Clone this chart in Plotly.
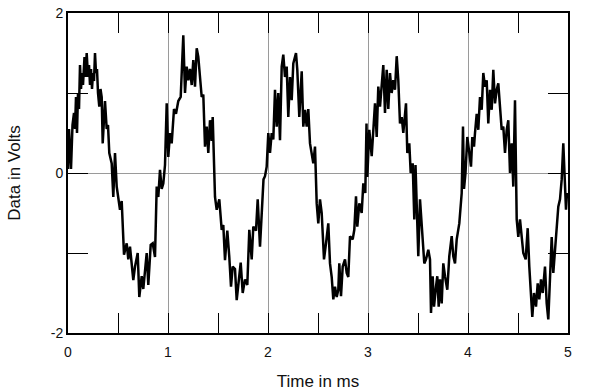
import plotly.graph_objects as go

time_ms = [
    0.000, 0.010, 0.020, 0.030, 0.045, 0.060, 0.070, 0.080, 0.090, 0.100,
    0.110, 0.120, 0.130, 0.140, 0.150, 0.165, 0.175, 0.187, 0.200, 0.210,
    0.220, 0.230, 0.240, 0.250, 0.260, 0.270, 0.280, 0.290, 0.300, 0.313,
    0.325, 0.337, 0.347, 0.370, 0.387, 0.400, 0.413, 0.437, 0.453, 0.470,
    0.487, 0.503, 0.520, 0.537, 0.553, 0.560, 0.587, 0.603, 0.620, 0.653,
    0.670, 0.697, 0.713, 0.737, 0.753, 0.770, 0.787, 0.803, 0.827, 0.847,
    0.870, 0.887, 0.903, 0.920, 0.937, 0.953, 0.970, 0.987, 1.003, 1.020,
    1.037, 1.060, 1.080, 1.103, 1.127, 1.153, 1.170, 1.187, 1.203, 1.220,
    1.237, 1.253, 1.270, 1.287, 1.303, 1.320, 1.337, 1.353, 1.370, 1.387,
    1.403, 1.420, 1.437, 1.447, 1.460, 1.470, 1.487, 1.513, 1.537, 1.553,
    1.570, 1.593, 1.613, 1.630, 1.647, 1.670, 1.687, 1.710, 1.727, 1.747,
    1.770, 1.793, 1.813, 1.837, 1.853, 1.880, 1.897, 1.920, 1.937, 1.955,
    1.970, 1.987, 2.003, 2.020, 2.037, 2.053, 2.070, 2.087, 2.103, 2.120,
    2.137, 2.153, 2.170, 2.187, 2.203, 2.220, 2.237, 2.253, 2.280, 2.293,
    2.313, 2.337, 2.353, 2.370, 2.387, 2.403, 2.420, 2.437, 2.453, 2.470,
    2.487, 2.503, 2.520, 2.537, 2.560, 2.580, 2.603, 2.620, 2.637, 2.653,
    2.670, 2.687, 2.703, 2.713, 2.730, 2.747, 2.770, 2.787, 2.803, 2.820,
    2.847, 2.863, 2.880, 2.893, 2.913, 2.937, 2.953, 2.973, 2.985, 2.993,
    3.013, 3.037, 3.053, 3.070, 3.087, 3.103, 3.120, 3.137, 3.153, 3.170,
    3.187, 3.203, 3.220, 3.237, 3.253, 3.270, 3.287, 3.303, 3.320, 3.337,
    3.353, 3.380, 3.393, 3.413, 3.427, 3.447, 3.463, 3.475, 3.487, 3.503,
    3.520, 3.537, 3.563, 3.580, 3.603, 3.620, 3.630, 3.647, 3.660, 3.680,
    3.693, 3.707, 3.720, 3.737, 3.753, 3.770, 3.793, 3.813, 3.837, 3.853,
    3.870, 3.887, 3.913, 3.937, 3.950, 3.960, 3.975, 3.993, 4.013, 4.030,
    4.043, 4.060, 4.070, 4.087, 4.103, 4.120, 4.137, 4.153, 4.170, 4.187,
    4.203, 4.220, 4.237, 4.253, 4.270, 4.287, 4.303, 4.320, 4.337, 4.353,
    4.370, 4.387, 4.403, 4.420, 4.437, 4.453, 4.470, 4.487, 4.503, 4.520,
    4.537, 4.553, 4.577, 4.597, 4.613, 4.630, 4.643, 4.660, 4.680, 4.697,
    4.713, 4.730, 4.747, 4.770, 4.787, 4.803, 4.820, 4.837, 4.853, 4.870,
    4.887, 4.903, 4.920, 4.937, 4.953, 4.970, 4.980, 4.990,
]

volts = [
    0.05, 0.55, 0.30, 0.05, 0.60, 0.75, 0.55, 0.95, 0.50, 1.00,
    0.80, 1.35, 1.05, 1.25, 1.10, 1.45, 1.20, 1.50, 1.20, 1.35,
    1.10, 1.30, 1.05, 1.25, 1.15, 1.50, 1.25, 1.30, 1.00, 0.83,
    1.05, 0.95, 0.37, 0.90, 0.55, 0.60, 0.25, 0.12, -0.30, 0.25,
    -0.17, -0.30, -0.46, -0.35, -0.80, -1.02, -0.88, -1.08, -0.92, -1.34,
    -1.17, -1.00, -1.55, -1.29, -1.45, -1.25, -1.00, -1.40, -0.90, -0.88,
    -1.05, -0.17, -0.30, 0.04, -0.20, -0.13, 0.10, 0.87, 0.20, 0.50,
    0.37, 0.80, 0.74, 0.90, 0.95, 1.72, 1.00, 1.33, 1.16, 1.30,
    1.10, 1.41, 1.08, 1.56, 1.45, 1.20, 0.95, 0.98, 0.33, 0.58,
    0.25, 0.66, 0.40, 0.70, 0.00, -0.30, -0.46, -0.33, -0.71, -0.65,
    -1.09, -0.72, -1.05, -1.42, -1.17, -1.20, -1.59, -1.30, -1.12, -1.50,
    -1.33, -1.40, -0.71, -1.08, -0.67, -0.72, -0.33, -0.92, -0.46, -0.08,
    -0.04, 0.08, 0.50, 0.25, 0.50, 0.42, 1.04, 0.58, 1.00, 0.41,
    1.33, 1.48, 1.20, 1.33, 0.70, 1.20, 0.91, 1.37, 1.50, 1.29,
    0.70, 1.27, 0.58, 0.79, 0.58, 0.80, 0.37, 0.25, 0.12, 0.33,
    -0.38, -0.63, -0.33, -0.50, -1.08, -0.88, -0.63, -1.13, -1.30, -1.58,
    -1.42, -1.55, -1.46, -1.13, -1.54, -1.17, -1.08, -1.25, -1.30, -0.79,
    -0.83, -0.71, -0.29, -0.67, -0.38, -0.50, -0.13, -0.25, 0.62, -0.05,
    0.54, 0.21, 0.58, 0.87, 0.45, 1.08, 0.83, 1.16, 1.35, 0.75,
    1.29, 0.80, 1.25, 1.00, 1.16, 1.04, 1.46, 1.16, 0.62, 0.70,
    0.50, 0.87, 0.25, 0.37, 0.00, 0.12, -0.58, 0.10, -0.33, -1.04,
    -0.33, -0.67, -1.13, -1.08, -0.96, -1.08, -1.75, -1.29, -1.67, -1.42,
    -1.29, -1.67, -1.33, -1.63, -1.13, -1.29, -1.46, -1.04, -0.79, -1.04,
    -1.13, -0.83, -0.63, -0.25, 0.58, -0.20, 0.00, 0.45, 0.20, 0.08,
    0.45, 0.33, 0.50, 0.74, 0.54, 0.95, 0.79, 1.25, 1.08, 1.16,
    0.62, 1.04, 0.79, 1.29, 0.87, 1.04, 1.12, 0.75, 0.54, 0.58,
    0.25, 0.54, 0.66, 0.00, 0.37, -0.17, 0.91, -0.58, -0.80, -0.58,
    -0.83, -1.00, -1.08, -0.69, -1.17, -1.50, -1.80, -1.50, -1.67, -1.38,
    -1.58, -1.33, -1.50, -1.17, -1.63, -1.83, -1.33, -0.80, -1.25, -0.96,
    -0.58, -0.42, -0.33, -0.08, 0.37, -0.20, -0.46, -0.25,
]

x_tick_vals = [0, 1, 2, 3, 4, 5]
y_tick_vals = [-2, -1, 0, 1, 2]
y_tick_text = ["-2", "", "0", "", "2"]

fig = go.Figure()
fig.add_trace(go.Scatter(
    x=time_ms, y=volts, mode="lines",
    line=dict(color="black", width=2.5),
    hoverinfo="skip", showlegend=False,
))

font = dict(family="Arial, Liberation Sans, sans-serif", size=14, color="#111")

fig.update_layout(
    width=600, height=392,
    margin=dict(l=68, r=32, t=13, b=59),
    paper_bgcolor="white", plot_bgcolor="white",
    font=font,
    xaxis=dict(
        range=[0, 5], tickvals=x_tick_vals, ticktext=[str(v) for v in x_tick_vals],
        ticks="inside", ticklen=20, tickwidth=1, tickcolor="black",
        showline=True, linecolor="black", linewidth=2, mirror="ticks",
        showgrid=True, gridcolor="#9a9a9a", gridwidth=1,
        zeroline=False, automargin=False, ticklabelstandoff=5,
        minor=dict(dtick=0.5, ticks="inside", ticklen=20, tickwidth=1,
                   tickcolor="black", showgrid=False),
        title=dict(text="Time in ms", standoff=16),
    ),
    yaxis=dict(
        range=[-2, 2], tickvals=y_tick_vals, ticktext=y_tick_text,
        ticks="inside", ticklen=20, tickwidth=1, tickcolor="black",
        showline=True, linecolor="black", linewidth=2, mirror="ticks",
        showgrid=False, automargin=False,
        zeroline=True, zerolinecolor="#9a9a9a", zerolinewidth=1,
        title=dict(text="Data in Volts", standoff=26),
    ),
)

fig.write_html("out.html")
